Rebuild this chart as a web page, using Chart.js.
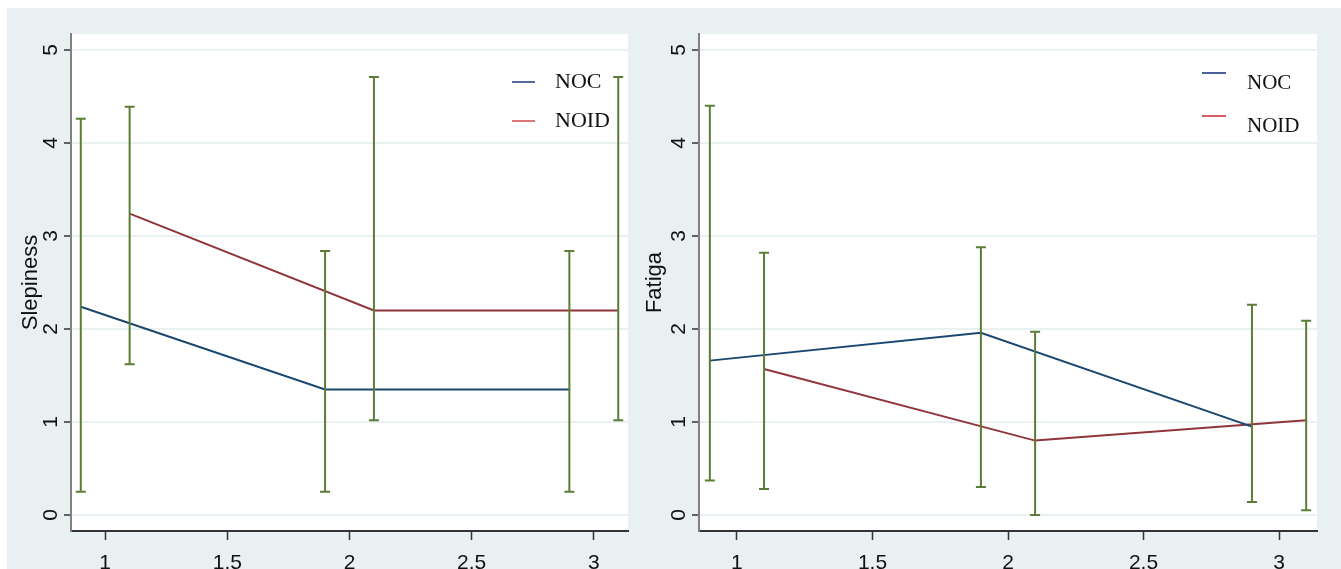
<!DOCTYPE html>
<html>
<head>
<meta charset="utf-8">
<script src="https://cdn.jsdelivr.net/npm/chart.js@4.4.0/dist/chart.umd.min.js"></script>
<style>
    body { margin: 0; background: #fff; width: 1341px; height: 569px; overflow: hidden; position: relative; }
    #bg { position: absolute; left: 7px; top: 8px; width: 1334px; height: 561px; background: #e8f0f2; }
    canvas { position: absolute; }
    #c1 { left: 7px; top: 8px; }
    #c2 { left: 630px; top: 8px; }
</style>
</head>
<body>
<div id="bg"></div>
<canvas id="c1" width="623" height="561"></canvas>
<canvas id="c2" width="711" height="561"></canvas>
<script>
// x positions of the two groups (dodged around visits 1,2,3)
var xNOC = [0.9, 1.9, 2.9];
var xNOID = [1.1, 2.1, 3.1];

// Slepiness panel
var sleepNOC = [2.24, 1.35, 1.35];
var sleepNOCLo = [0.25, 0.25, 0.25];
var sleepNOCHi = [4.26, 2.84, 2.84];
var sleepNOID = [3.24, 2.20, 2.20];
var sleepNOIDLo = [1.62, 1.02, 1.02];
var sleepNOIDHi = [4.39, 4.71, 4.71];

// Fatiga panel
var fatNOC = [1.66, 1.96, 0.95];
var fatNOCLo = [0.37, 0.30, 0.14];
var fatNOCHi = [4.40, 2.88, 2.26];
var fatNOID = [1.57, 0.80, 1.02];
var fatNOIDLo = [0.28, 0.00, 0.05];
var fatNOIDHi = [2.82, 1.97, 2.09];

var xTicks = [1, 1.5, 2, 2.5, 3];
var yTicks = [0, 1, 2, 3, 4, 5];
var seriesNames = ['NOC', 'NOID'];

var navy = '#1a476f', maroon = '#90353b', green = '#5b7d36';

function pts(xs, ys) {
    return xs.map(function(x, i){ return {x: x, y: ys[i]}; });
}

var whiteArea = {
    id: 'whiteArea',
    beforeDraw: function(chart){
        var a = chart.chartArea, ctx = chart.ctx;
        ctx.save();
        ctx.fillStyle = '#fff';
        ctx.fillRect(a.left, a.top, a.right - a.left, a.bottom - a.top);
        ctx.restore();
    }
};

var errBars = {
    id: 'errBars',
    afterDatasetsDraw: function(chart, args, opts){
        var ctx = chart.ctx, xs = chart.scales.x, ys = chart.scales.y;
        ctx.save();
        ctx.strokeStyle = green;
        ctx.lineWidth = 2;
        opts.bars.forEach(function(b){
            b.x.forEach(function(xv, i){
                var px = xs.getPixelForValue(xv);
                var lo = ys.getPixelForValue(b.lo[i]);
                var hi = ys.getPixelForValue(b.hi[i]);
                ctx.beginPath();
                ctx.moveTo(px, lo); ctx.lineTo(px, hi);
                ctx.moveTo(px - 5, lo); ctx.lineTo(px + 5, lo);
                ctx.moveTo(px - 5, hi); ctx.lineTo(px + 5, hi);
                ctx.stroke();
            });
        });
        ctx.restore();
    }
};

var stataLegend = {
    id: 'stataLegend',
    afterDraw: function(chart, args, o){
        var a = chart.chartArea, ctx = chart.ctx;
        ctx.save();
        ctx.font = o.size + 'px "Liberation Serif", "Times New Roman", serif';
        ctx.fillStyle = '#111';
        ctx.textBaseline = 'alphabetic';
        ctx.lineWidth = 1.5;
        chart.data.datasets.forEach(function(ds, i){
            ctx.strokeStyle = o.colors[i];
            ctx.beginPath();
            ctx.moveTo(a.right - o.lineX1, a.top + o.lineY[i]);
            ctx.lineTo(a.right - o.lineX2, a.top + o.lineY[i]);
            ctx.stroke();
            ctx.fillText(ds.label, a.right - o.textX, a.top + o.textY[i]);
        });
        ctx.restore();
    }
};

function makePanel(id, title, titlePad, yAxisW, padRight, noc, noid, bars, leg) {
    return new Chart(document.getElementById(id), {
        type: 'line',
        data: {
            datasets: [
                { label: seriesNames[0], data: pts(xNOC, noc), borderColor: navy, borderWidth: 2, pointRadius: 0, tension: 0 },
                { label: seriesNames[1], data: pts(xNOID, noid), borderColor: maroon, borderWidth: 2, pointRadius: 0, tension: 0 }
            ]
        },
        options: {
            responsive: false,
            animation: false,
            devicePixelRatio: 1,
            layout: { padding: { top: 26, right: padRight, bottom: 0, left: 0 } },
            plugins: {
                legend: { display: false },
                tooltip: { enabled: false },
                errBars: { bars: bars },
                stataLegend: leg
            },
            scales: {
                x: {
                    type: 'linear', min: 0.86, max: 3.14,
                    afterBuildTicks: function(s){ s.ticks = xTicks.map(function(v){ return {value: v}; }); },
                    afterFit: function(s){ s.height = 38; },
                    border: { color: '#333', width: 2 },
                    grid: { drawOnChartArea: false, tickLength: 9, tickColor: '#333', tickWidth: 1.5 },
                    ticks: {
                        color: '#111', padding: 11, maxRotation: 0,
                        font: { family: '"Liberation Sans", Arial, sans-serif', size: 21 },
                        callback: function(v){ return String(v); }
                    }
                },
                y: {
                    type: 'linear', min: -0.172, max: 5.172,
                    afterBuildTicks: function(s){ s.ticks = yTicks.map(function(v){ return {value: v}; }); },
                    afterFit: function(s){ s.width = yAxisW; },
                    border: { color: '#808080', width: 2 },
                    grid: { color: '#e9f1f3', lineWidth: 2, tickLength: 7, tickColor: '#333', tickWidth: 1.5 },
                    ticks: {
                        color: '#111', padding: 7, minRotation: 90, maxRotation: 90, crossAlign: 'center',
                        font: { family: '"Liberation Sans", Arial, sans-serif', size: 21 },
                        callback: function(v){ return String(v); }
                    },
                    title: {
                        display: true, text: title, color: '#111',
                        padding: { top: titlePad, bottom: 0 },
                        font: { family: '"Liberation Sans", Arial, sans-serif', size: 22 }
                    }
                }
            }
        },
        plugins: [whiteArea, errBars, stataLegend]
    });
}

makePanel('c1', 'Slepiness', 11, 64, 2, sleepNOC, sleepNOID,
    [{x: xNOC, lo: sleepNOCLo, hi: sleepNOCHi}, {x: xNOID, lo: sleepNOIDLo, hi: sleepNOIDHi}],
    {size: 22, colors: ['#1c3b7c', '#d4484a'], lineX1: 116, lineX2: 93, lineY: [48, 87], textX: 73, textY: [54, 93]});

makePanel('c2', 'Fatiga', 12, 69, 24, fatNOC, fatNOID,
    [{x: xNOC, lo: fatNOCLo, hi: fatNOCHi}, {x: xNOID, lo: fatNOIDLo, hi: fatNOIDHi}],
    {size: 21, colors: ['#0f2c7a', '#cc2630'], lineX1: 115, lineX2: 91, lineY: [39, 82], textX: 70, textY: [55, 98]});
</script>
</body>
</html>
